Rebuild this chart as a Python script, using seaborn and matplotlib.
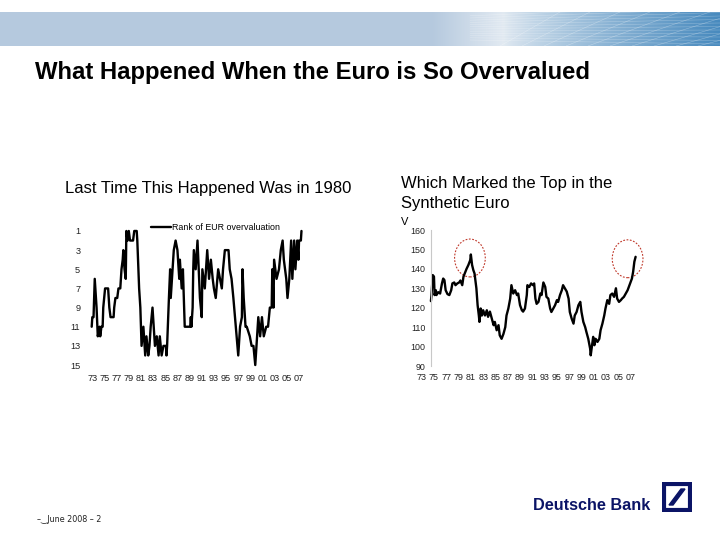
import numpy as np
import pandas as pd
import matplotlib
matplotlib.use("Agg")
import matplotlib.pyplot as plt
from matplotlib.patches import Ellipse, Rectangle, Polygon
import seaborn as sns

# rank of EUR overvaluation (1 = most overvalued)
rank_years = [1972.9, 1973.0, 1973.2, 1973.4, 1973.6, 1973.7, 1973.9, 1974.2, 1974.3, 1974.5,
              1974.7, 1974.8, 1975.1, 1975.6, 1975.8, 1976.0, 1976.5, 1976.6, 1976.8, 1977.1,
              1977.3, 1977.6, 1977.7, 1977.8, 1978.0, 1978.1, 1978.3, 1978.5, 1978.6, 1978.8,
              1979.0, 1979.2, 1979.7, 1979.9, 1980.3, 1980.4, 1980.7, 1980.9, 1981.1, 1981.4,
              1981.7, 1981.9, 1982.2, 1982.4, 1982.6, 1982.9, 1983.1, 1983.3, 1983.6, 1983.9,
              1984.1, 1984.4, 1984.7, 1985.1, 1985.2, 1985.3, 1985.6, 1985.8, 1985.9, 1986.2,
              1986.4, 1986.7, 1987.0, 1987.3, 1987.4, 1987.7, 1987.9, 1988.1, 1988.2, 1989.1,
              1989.2, 1989.3, 1989.5, 1989.6, 1989.7, 1990.0, 1990.3, 1990.5, 1990.7, 1991.0,
              1991.1, 1991.5, 1991.9, 1992.2, 1992.5, 1992.8, 1993.0, 1993.3, 1993.7, 1994.0,
              1994.3, 1994.5, 1994.8, 1995.4, 1995.6, 1995.9, 1996.2, 1996.6, 1997.0, 1997.3,
              1997.6, 1997.7, 1997.9, 1998.2, 1998.4, 1998.9, 1999.2, 1999.5, 1999.8, 2000.0,
              2000.3, 2000.6, 2000.9, 2001.2, 2001.6, 2001.9, 2002.2, 2002.5, 2002.6, 2002.8,
              2002.9, 2003.3, 2003.7, 2004.0, 2004.3, 2004.5, 2004.9, 2005.1, 2005.4, 2005.7,
              2005.9, 2006.2, 2006.4, 2006.7, 2006.9, 2007.0, 2007.3, 2007.4]
rank_values = [11, 10, 10, 6, 8, 9, 12, 11, 12, 11,
               11, 9, 7, 7, 9, 10, 10, 9, 8, 8,
               7, 7, 6, 5, 4, 3, 5, 6, 1, 2,
               1, 2, 2, 1, 1, 2, 7, 9, 13, 11,
               14, 12, 14, 13, 11, 9, 11, 13, 12, 14,
               12, 14, 13, 13, 14, 13, 8, 5, 8, 5,
               3, 2, 3, 6, 4, 7, 5, 9, 11, 11,
               10, 11, 9, 5, 3, 5, 2, 5, 8, 10,
               5, 7, 3, 6, 4, 6, 7, 8, 5, 6,
               7, 5, 3, 3, 5, 6, 8, 11, 14, 11,
               10, 5, 8, 11, 11, 12, 13, 13, 15, 13,
               10, 12, 10, 12, 11, 11, 9, 9, 5, 9,
               4, 6, 5, 3, 2, 4, 6, 8, 6, 2,
               6, 2, 5, 2, 4, 2, 2, 1]

# synthetic euro index
syn_years = [1974.5, 1974.6, 1974.8, 1975.0, 1975.1, 1975.3, 1975.4, 1975.7, 1976.0, 1976.3,
             1976.5, 1976.7, 1976.9, 1977.2, 1977.5, 1977.8, 1978.0, 1978.3, 1978.5, 1978.8,
             1979.1, 1979.3, 1979.6, 1979.8, 1980.0, 1980.3, 1980.6, 1980.9, 1981.0, 1981.2,
             1981.4, 1981.6, 1981.7, 1981.9, 1982.1, 1982.3, 1982.4, 1982.6, 1982.8, 1983.0,
             1983.3, 1983.6, 1983.8, 1984.1, 1984.4, 1984.7, 1984.9, 1985.2, 1985.5, 1985.7,
             1986.0, 1986.3, 1986.6, 1986.8, 1987.1, 1987.4, 1987.6, 1987.9, 1988.2, 1988.5,
             1988.7, 1989.0, 1989.3, 1989.5, 1989.8, 1990.1, 1990.2, 1990.5, 1990.8, 1991.1,
             1991.3, 1991.5, 1991.7, 1992.0, 1992.3, 1992.5, 1992.8, 1993.1, 1993.3, 1993.6,
             1993.9, 1994.1, 1994.4, 1994.7, 1995.0, 1995.2, 1995.5, 1995.8, 1996.0, 1996.3,
             1996.6, 1996.9, 1997.1, 1997.4, 1997.7, 1997.9, 1998.2, 1998.5, 1998.8, 1999.0,
             1999.3, 1999.6, 1999.8, 2000.1, 2000.4, 2000.5, 2000.8, 2000.9, 2001.1, 2001.3,
             2001.6, 2001.9, 2002.1, 2002.4, 2002.7, 2002.9, 2003.2, 2003.5, 2003.7, 2004.0,
             2004.3, 2004.6, 2004.8, 2005.1, 2005.4, 2005.6, 2005.9, 2006.2, 2006.5, 2006.7,
             2006.9, 2007.2, 2007.4, 2007.6, 2007.8]
syn_values = [123.4, 126.5, 136.8, 136.0, 126.5, 129.0, 126.5, 128.0, 127.3, 132.5,
              135.0, 134.2, 129.0, 127.0, 126.5, 129.0, 132.5, 133.0, 131.6, 132.5,
              133.0, 134.0, 131.6, 136.0, 137.6, 140.0, 142.0, 144.5, 147.4, 142.0,
              139.4, 137.6, 135.0, 130.0, 121.3, 116.0, 112.7, 119.6, 116.0, 118.7,
              116.0, 118.7, 115.3, 118.0, 114.4, 111.0, 112.7, 108.4, 111.0, 105.8,
              104.0, 106.5, 110.0, 116.0, 119.6, 124.7, 131.6, 127.3, 129.0, 126.5,
              127.3, 121.3, 118.7, 118.0, 119.6, 126.5, 131.6, 130.7, 132.5, 131.6,
              132.5, 124.7, 122.0, 123.0, 127.3, 126.5, 133.0, 130.7, 125.6, 124.7,
              119.6, 117.8, 119.6, 121.3, 123.9, 123.0, 126.5, 129.0, 131.6, 130.0,
              128.3, 124.7, 117.8, 114.4, 111.8, 116.0, 117.8, 121.3, 123.0, 117.8,
              112.7, 110.0, 107.5, 104.0, 99.0, 95.5, 102.4, 105.0, 100.7, 104.0,
              102.4, 104.0, 108.4, 111.8, 116.0, 119.6, 123.9, 122.0, 126.5, 127.3,
              125.6, 130.0, 124.7, 123.0, 123.9, 124.7, 125.6, 127.3, 129.0, 130.7,
              132.5, 135.0, 138.5, 143.7, 146.2]

tick_years = [1973, 1975, 1977, 1979, 1981, 1983, 1985, 1987, 1989, 1991,
              1993, 1995, 1997, 1999, 2001, 2003, 2005, 2007]
tick_labels = ["73", "75", "77", "79", "81", "83", "85", "87", "89", "91",
               "93", "95", "97", "99", "01", "03", "05", "07"]
rank_ticks = [1, 3, 5, 7, 9, 11, 13, 15]
syn_ticks = [90, 100, 110, 120, 130, 140, 150, 160]

# tops marked with dashed circles: (year, level)
peak_marks = [(1980.85, 145.6), (2006.5, 145.2)]

sns.set_style("white")
plt.rcParams["font.family"] = ["Liberation Sans", "DejaVu Sans"]
plt.rcParams["text.color"] = "black"

fig = plt.figure(figsize=(7.2, 5.4), dpi=100)
W, H = 720, 540


def px_axes(left, top, right, bottom):
    return fig.add_axes([left / W, 1 - bottom / H, (right - left) / W, (bottom - top) / H])


# ---- banner across the top ----
bg = px_axes(0, 12, 720, 46)
xs = np.linspace(0, 1, 720)
base = np.array([181, 201, 222]) / 255.0
light = np.array([226, 234, 242]) / 255.0
deep = np.array([72, 138, 190]) / 255.0
cols = np.zeros((34, 720, 3))
for i, x in enumerate(xs):
    if x < 0.60:
        c = base
    elif x < 0.70:
        t = (x - 0.60) / 0.10
        c = base * (1 - t) + light * t
    else:
        t = min((x - 0.70) / 0.30, 1) ** 0.8
        c = light * (1 - t) + deep * t
    cols[:, i, :] = c
bg.imshow(cols, aspect="auto", extent=[0, 720, 46, 12])
for k in range(12):
    bg.plot([500 + k * 22, 560 + k * 30], [46, 12], color="white", lw=0.4, alpha=0.35)
    bg.plot([470, 720], [40 - k * 2.2, 44 - k * 3.5], color="white", lw=0.4, alpha=0.3)
bg.set_xlim(0, 720)
bg.set_ylim(46, 12)
bg.axis("off")

# ---- headings ----
fig.text(35 / W, 1 - 73 / H, "What Happened When the Euro is So Overvalued",
         fontsize=17.2, fontweight="bold", va="center", ha="left")
fig.text(65 / W, 1 - 188 / H, "Last Time This Happened Was in 1980",
         fontsize=12, va="center", ha="left")
fig.text(401 / W, 1 - 193.5 / H, "Which Marked the Top in the\nSynthetic Euro",
         fontsize=12, va="center", ha="left", linespacing=1.4)
fig.text(401 / W, 1 - 222 / H, "V", fontsize=8, va="center", ha="left")

# ---- left panel: rank ----
ax1 = px_axes(90, 228, 305, 368)
rank_df = pd.DataFrame({"year": rank_years, "rank": rank_values})
sns.lineplot(data=rank_df, x="year", y="rank", ax=ax1, color="black", lw=1.7,
             estimator=None, label="Rank of EUR overvaluation")
ax1.set_xlim(1972.62, 2007.98)
ax1.set_ylim(15.31, 0.69)
ax1.set_yticks(rank_ticks)
ax1.set_xticks(tick_years)
ax1.set_xticklabels(tick_labels)
ax1.tick_params(axis="both", length=0, labelsize=6.6, colors="#222222")
ax1.tick_params(axis="y", pad=7)
ax1.tick_params(axis="x", pad=4)
ax1.set_xlabel("")
ax1.set_ylabel("")
for s in ax1.spines.values():
    s.set_visible(False)
ax1.legend(loc="upper left", bbox_to_anchor=(0.285, 1.035), frameon=False, fontsize=6.4,
           handlelength=2.2, handletextpad=0.15, borderpad=0, borderaxespad=0)

# ---- right panel: synthetic euro ----
ax2 = px_axes(418.6, 230, 639.9, 366)
syn_df = pd.DataFrame({"year": syn_years, "index": syn_values})
sns.lineplot(data=syn_df, x="year", y="index", ax=ax2, color="black", lw=1.7,
             estimator=None, legend=False)
ax2.set_xlim(1972.5, 2008.5)
ax2.set_ylim(90, 160)
ax2.set_yticks(syn_ticks)
ax2.set_xticks(tick_years)
ax2.set_xticklabels(tick_labels)
ax2.spines["left"].set_position(("data", 1974.5))
ax2.spines["left"].set_color("#c8c8c8")
ax2.spines["left"].set_linewidth(0.8)
for side in ["top", "right", "bottom"]:
    ax2.spines[side].set_visible(False)
ax2.tick_params(axis="y", length=0, labelsize=6.4, colors="#222222", pad=4)
ax2.tick_params(axis="x", direction="in", length=2.5, width=0.6, color="#c8c8c8",
                labelsize=6.4, labelcolor="#222222", pad=5)
ax2.set_xlabel("")
ax2.set_ylabel("")
for cx, cy in peak_marks:
    ax2.add_patch(Ellipse((cx, cy), width=5.0, height=19.5, fill=False,
                          edgecolor="#c0392b", linestyle=(0, (1.6, 1.4)), lw=0.8, clip_on=False))

# ---- footer ----
fig.text(37 / W, 1 - 519 / H, "–\u203fJune 2008 – 2", fontsize=5.8, va="center", ha="left",
         color="#222222", family=["DejaVu Sans"])

navy = "#0b1466"
fig.text(533 / W, 1 - 506 / H, "Deutsche Bank", fontsize=11.7, fontweight="bold",
         color=navy, va="center", ha="left")
logo = px_axes(662, 482, 692, 512)
logo.set_xlim(0, 30)
logo.set_ylim(0, 30)
logo.axis("off")
logo.add_patch(Rectangle((2, 2), 26, 26, fill=False, edgecolor=navy, lw=3))
logo.add_patch(Polygon([[7, 7], [11, 7], [23, 23], [19, 23]], closed=True, color=navy))

fig.savefig("out.png", dpi=100)
